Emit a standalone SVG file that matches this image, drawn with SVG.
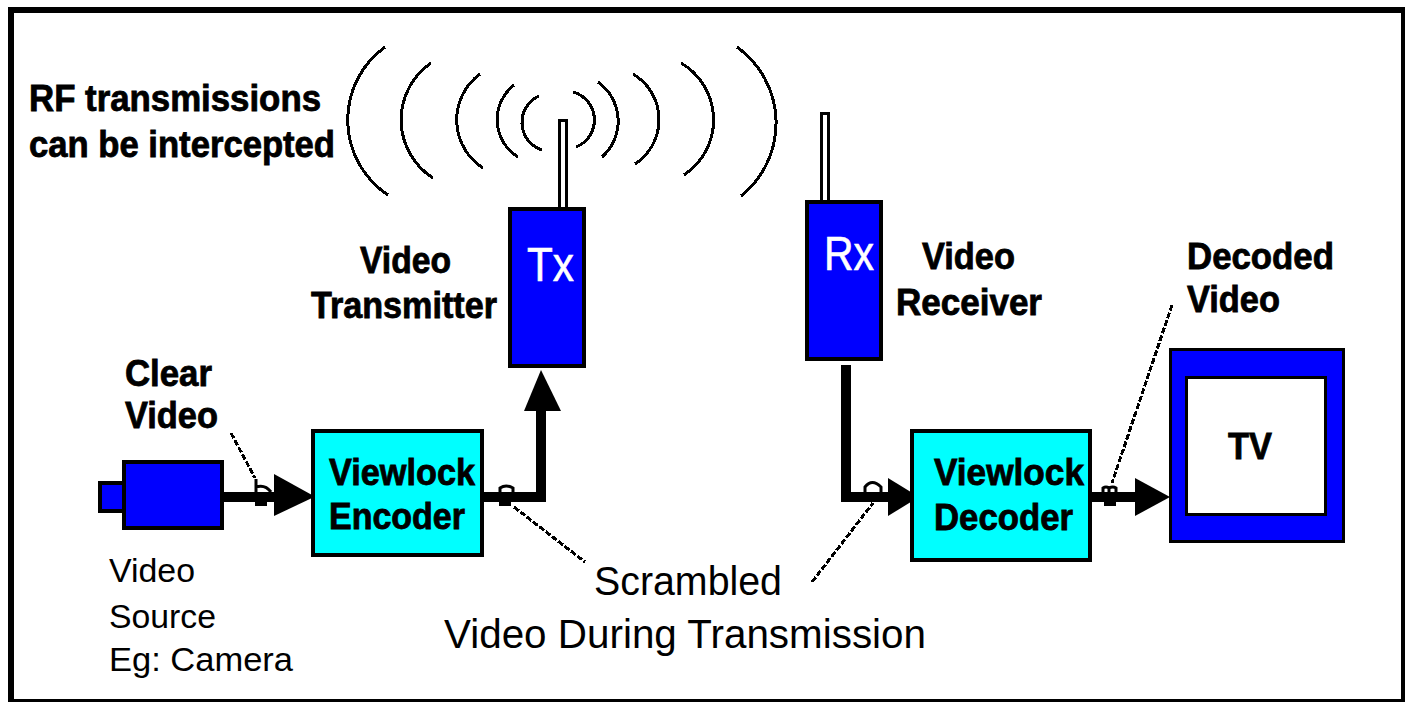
<svg xmlns="http://www.w3.org/2000/svg" width="1405" height="702" viewBox="0 0 1405 702">
<style>
.b{font-family:"Liberation Sans",Arial,sans-serif;font-weight:bold;font-size:36px;fill:#000;stroke:#000;stroke-width:.8}
.r{font-family:"Liberation Sans",Arial,sans-serif;font-size:40px;fill:#000}
.s{font-size:34px}
.w{font-family:"Liberation Sans",Arial,sans-serif;font-size:48px;fill:#fff;stroke:#fff;stroke-width:.6}
.box{fill:#0000ff;stroke:#000;stroke-width:4}
.cy{fill:#00ffff;stroke:#000;stroke-width:4}
.ant{fill:#fff;stroke:#000;stroke-width:3}
.wire{fill:none;stroke:#000;stroke-width:10;stroke-linejoin:miter}
.arc{fill:none;stroke:#000;stroke-width:3;shape-rendering:crispEdges}
.lead{fill:none;stroke:#000;stroke-width:3;stroke-dasharray:6 2;shape-rendering:crispEdges}
.tap{fill:#fff;stroke:#000;stroke-width:3}
</style>
<rect x="0" y="0" width="1405" height="702" fill="#fff"/>
<path id="frame" d="M8 702V7H1405V702ZM14 13V699H1401V13Z" fill="#000" fill-rule="evenodd"/>
<g id="waves">
<path class="arc" d="M385 47A90 90 0 0 0 388 195"/>
<path class="arc" d="M431 63A69 69 0 0 0 433 178"/>
<path class="arc" d="M480 74A57 57 0 0 0 483 168"/>
<path class="arc" d="M514 85A44 44 0 0 0 518 157"/>
<path class="arc" d="M539 96A29 29 0 0 0 542 150"/>
<path class="arc" d="M573 92A29 29 0 0 1 576 147"/>
<path class="arc" d="M598 82A48 48 0 0 1 602 157"/>
<path class="arc" d="M633 74A53 53 0 0 1 635 164"/>
<path class="arc" d="M681 63A66 66 0 0 1 684 175"/>
<path class="arc" d="M737 47A93.500 93.500 0 0 1 741 196"/>
</g>
<g id="connectors">
<path class="wire" d="M224 497H290"/>
<path class="wire" d="M484 497H541V400"/>
<path class="wire" d="M846 365V497H890"/>
<path class="wire" d="M1092 497H1140"/>
<path d="M274 474L312 495V498L274 516Z"/>
<path d="M541 370L561 411H524Z"/>
<path d="M888 478L919 497L888 516Z"/>
<path d="M1135 478L1170 497L1135 516Z"/>
<path class="tap" d="M256 492V479M256 487Q265 484 271 492"/>
<path class="tap" d="M500 492V488Q506 484 513 488V492"/>
<path class="tap" d="M865 492V487Q872 478 881 487V492"/>
<path class="tap" d="M1103 492V488Q1106 486 1109 488V492M1109 488Q1113 486 1116 488V492"/>
<path d="M255 497h12v9h-12zM499 497h12v9h-12zM1104 497h12v9h-12z"/>
<path class="lead" d="M231 433L255 478"/>
<path class="lead" d="M514 507L585 562"/>
<path class="lead" d="M812 582L873 503"/>
<path class="lead" d="M1172 305L1112 483"/>
</g>
<g id="tx">
<rect class="ant" x="559.500" y="120.500" width="7" height="88"/>
<rect class="box" x="510" y="209" width="74" height="157"/>
<text class="w" x="527" y="281" textLength="47" lengthAdjust="spacingAndGlyphs">Tx</text>
</g>
<g id="rx">
<rect class="ant" x="821.500" y="113.500" width="7" height="88"/>
<rect class="box" x="807" y="202" width="74" height="157"/>
<text class="w" x="824" y="270" textLength="50" lengthAdjust="spacingAndGlyphs">Rx</text>
</g>
<g id="camera">
<rect class="box" x="100" y="483" width="24" height="28"/>
<rect class="box" x="124" y="462" width="98" height="66"/>
</g>
<g id="encoder">
<rect class="cy" x="313" y="431" width="169" height="124"/>
<text class="b" x="329" y="485" textLength="146" lengthAdjust="spacingAndGlyphs">Viewlock</text>
<text class="b" x="329" y="529" textLength="136" lengthAdjust="spacingAndGlyphs">Encoder</text>
</g>
<g id="decoder">
<rect class="cy" x="912" y="431" width="178" height="129"/>
<text class="b" x="934" y="485" textLength="150" lengthAdjust="spacingAndGlyphs">Viewlock</text>
<text class="b" x="934" y="530" textLength="139" lengthAdjust="spacingAndGlyphs">Decoder</text>
</g>
<g id="tv">
<rect x="1170.500" y="349.500" width="173" height="192" fill="#0000ff" stroke="#000" stroke-width="3"/>
<rect x="1186.500" y="377.500" width="139" height="137" fill="#fff" stroke="#000" stroke-width="3"/>
<text class="b" x="1228" y="459" textLength="44" lengthAdjust="spacingAndGlyphs">TV</text>
</g>
<g id="labels">
<text class="b" x="29" y="111" textLength="292" lengthAdjust="spacingAndGlyphs">RF transmissions</text>
<text class="b" x="29" y="157" textLength="306" lengthAdjust="spacingAndGlyphs">can be intercepted</text>
<text class="b" x="360" y="273" textLength="91" lengthAdjust="spacingAndGlyphs">Video</text>
<text class="b" x="311" y="318" textLength="186" lengthAdjust="spacingAndGlyphs">Transmitter</text>
<text class="b" x="922" y="269" textLength="93" lengthAdjust="spacingAndGlyphs">Video</text>
<text class="b" x="896" y="315" textLength="146" lengthAdjust="spacingAndGlyphs">Receiver</text>
<text class="b" x="1187" y="269" textLength="147" lengthAdjust="spacingAndGlyphs">Decoded</text>
<text class="b" x="1187" y="312" textLength="93" lengthAdjust="spacingAndGlyphs">Video</text>
<text class="b" x="125" y="386" textLength="87" lengthAdjust="spacingAndGlyphs">Clear</text>
<text class="b" x="125" y="428" textLength="93" lengthAdjust="spacingAndGlyphs">Video</text>
<text class="r s" x="109" y="582" textLength="86" lengthAdjust="spacingAndGlyphs">Video</text>
<text class="r s" x="109" y="628" textLength="107" lengthAdjust="spacingAndGlyphs">Source</text>
<text class="r s" x="109" y="671" textLength="184" lengthAdjust="spacingAndGlyphs">Eg: Camera</text>
<text class="r" x="594" y="595" textLength="188" lengthAdjust="spacingAndGlyphs">Scrambled</text>
<text class="r" x="444" y="648" textLength="482" lengthAdjust="spacingAndGlyphs">Video During Transmission</text>
</g>
</svg>
